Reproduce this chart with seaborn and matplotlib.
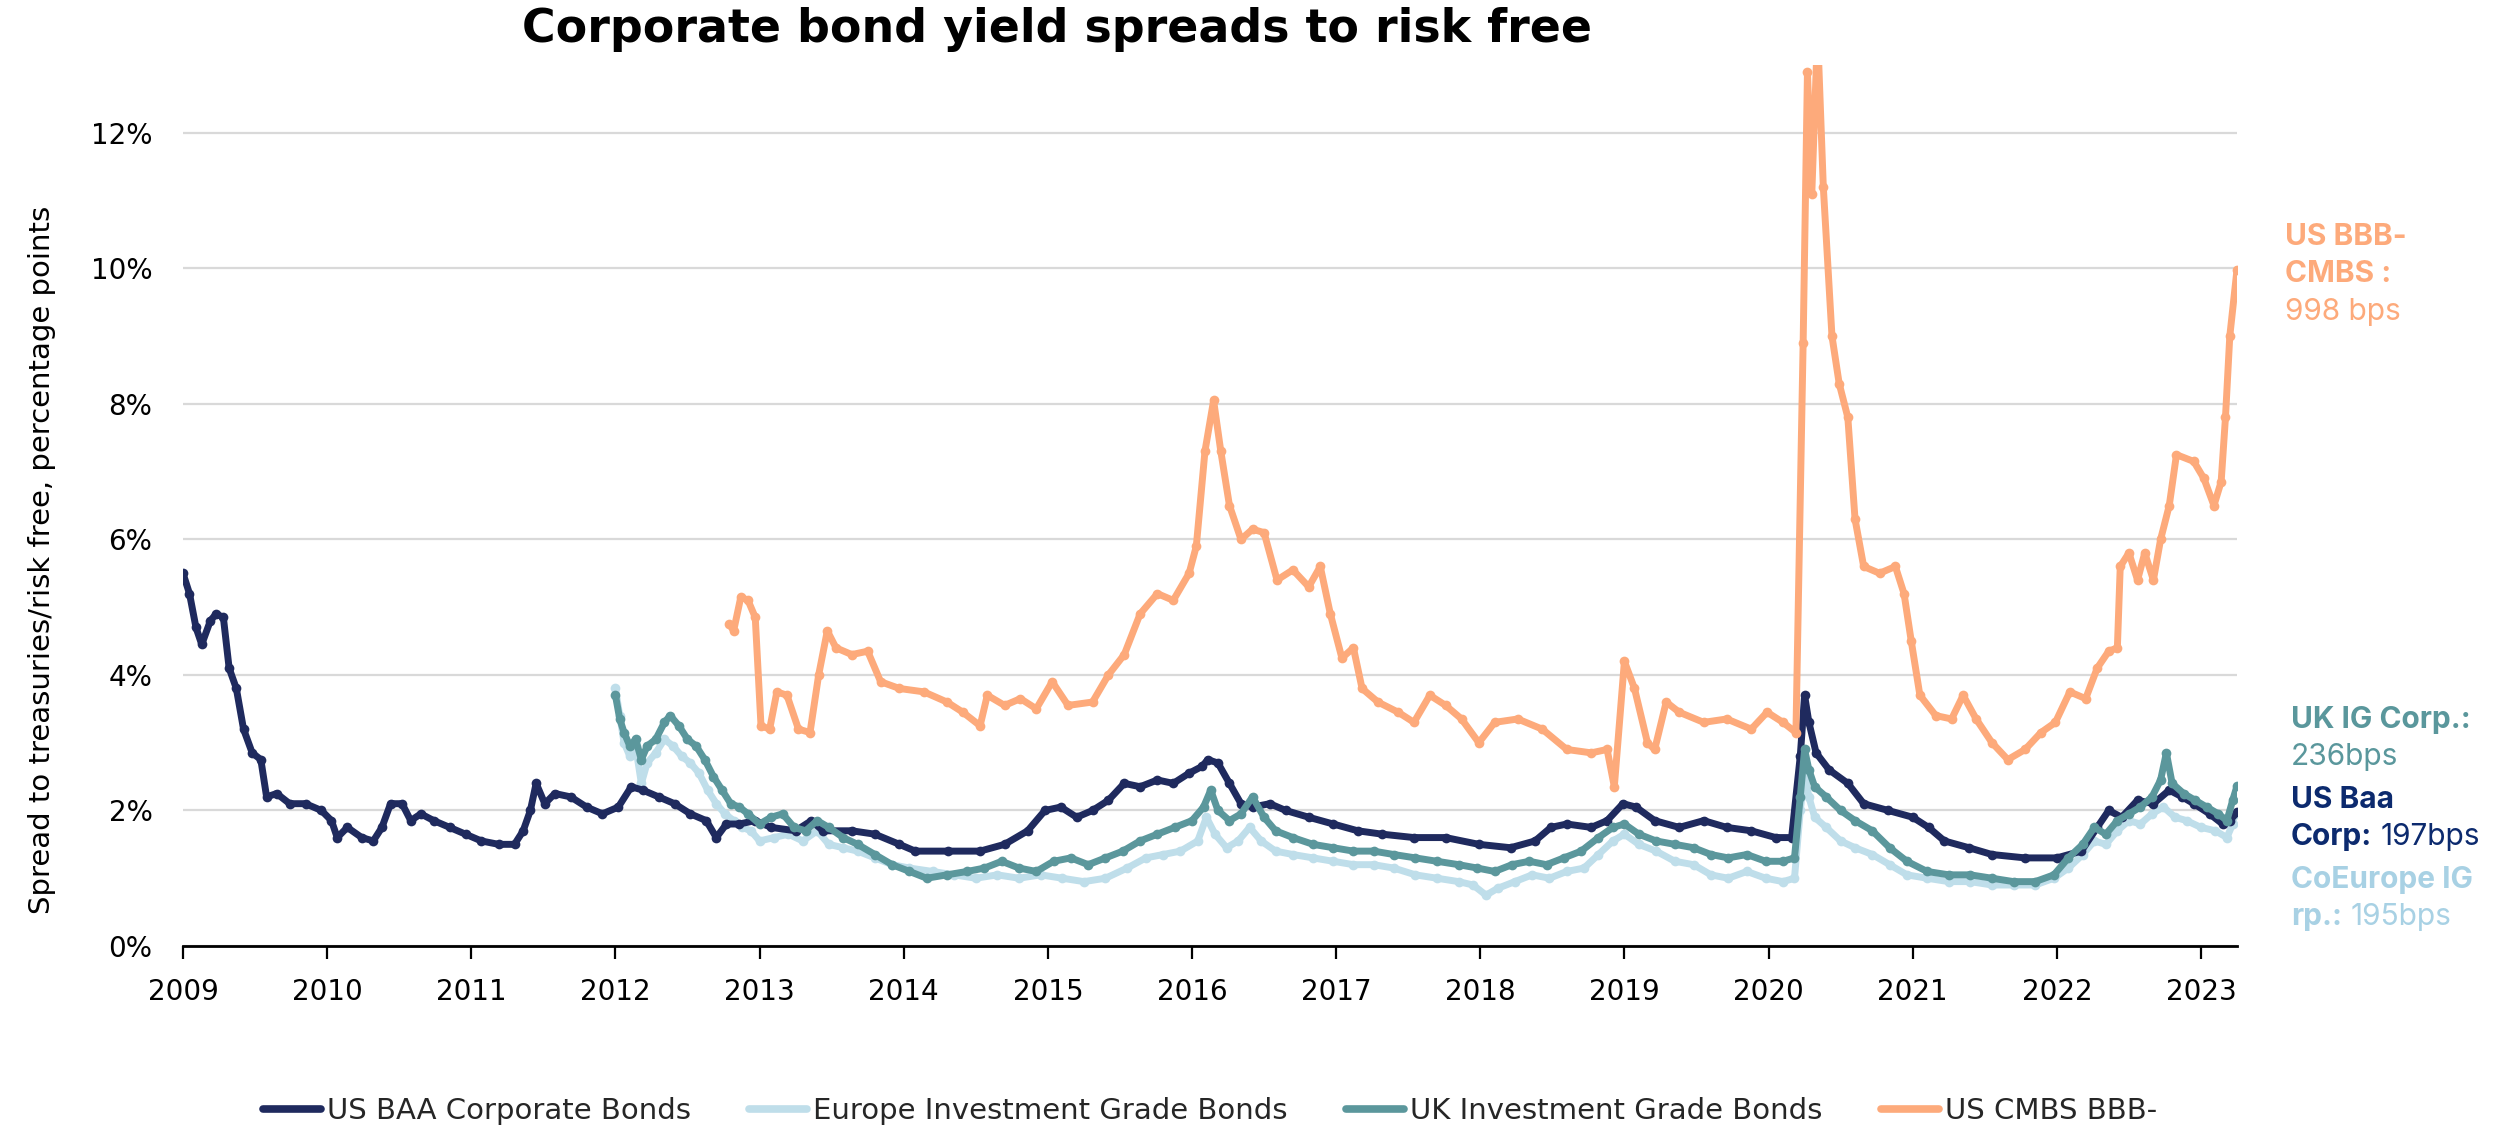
import matplotlib
matplotlib.use("Agg")
import matplotlib.pyplot as plt
import matplotlib.lines as mlines
import seaborn as sns
import pandas as pd

# ---- data (spread over risk free, percentage points) ----
baa_x = [2009.00, 2009.045, 2009.09, 2009.13, 2009.19, 2009.23, 2009.28, 2009.32, 2009.37, 2009.42,
         2009.48, 2009.54, 2009.58, 2009.65, 2009.74, 2009.85, 2009.96, 2010.03, 2010.07, 2010.14,
         2010.24, 2010.32, 2010.38, 2010.44, 2010.52, 2010.58, 2010.65, 2010.74, 2010.85, 2010.96,
         2011.07, 2011.19, 2011.30, 2011.36, 2011.41, 2011.45, 2011.51, 2011.58, 2011.69, 2011.80,
         2011.91, 2012.02, 2012.11, 2012.19, 2012.30, 2012.41, 2012.52, 2012.63, 2012.70, 2012.77,
         2012.86, 2012.97, 2013.08, 2013.25, 2013.36, 2013.44, 2013.64, 2013.80, 2013.97, 2014.08,
         2014.31, 2014.53, 2014.70, 2014.86, 2014.98, 2015.09, 2015.20, 2015.31, 2015.42, 2015.53,
         2015.64, 2015.76, 2015.87, 2015.98, 2016.07, 2016.11, 2016.18, 2016.26, 2016.34, 2016.42,
         2016.54, 2016.65, 2016.81, 2016.98, 2017.15, 2017.32, 2017.54, 2017.76, 2017.99, 2018.21,
         2018.38, 2018.49, 2018.60, 2018.77, 2018.88, 2018.99, 2019.08, 2019.21, 2019.38, 2019.55,
         2019.71, 2019.88, 2020.05, 2020.16, 2020.22, 2020.25, 2020.28, 2020.33, 2020.42, 2020.55,
         2020.66, 2020.83, 2021.00, 2021.11, 2021.22, 2021.39, 2021.55, 2021.78, 2022.00, 2022.17,
         2022.28, 2022.36, 2022.45, 2022.56, 2022.67, 2022.78, 2022.87, 2022.95, 2023.06, 2023.15,
         2023.20, 2023.25]
baa_y = [5.50, 5.20, 4.70, 4.45, 4.80, 4.90, 4.85, 4.10, 3.80, 3.20,
         2.85, 2.75, 2.20, 2.25, 2.10, 2.10, 2.00, 1.85, 1.60, 1.75,
         1.60, 1.55, 1.75, 2.10, 2.10, 1.85, 1.95, 1.85, 1.75, 1.65,
         1.55, 1.50, 1.50, 1.70, 2.00, 2.40, 2.10, 2.25, 2.20, 2.05,
         1.95, 2.05, 2.35, 2.30, 2.20, 2.10, 1.95, 1.85, 1.60, 1.80,
         1.80, 1.85, 1.75, 1.70, 1.85, 1.70, 1.70, 1.65, 1.50, 1.40,
         1.40, 1.40, 1.50, 1.70, 2.00, 2.05, 1.90, 2.00, 2.15, 2.40,
         2.35, 2.45, 2.40, 2.55, 2.65, 2.75, 2.70, 2.40, 2.10, 2.05,
         2.10, 2.00, 1.90, 1.80, 1.70, 1.65, 1.60, 1.60, 1.50, 1.45,
         1.55, 1.75, 1.80, 1.75, 1.85, 2.10, 2.05, 1.85, 1.75, 1.85,
         1.75, 1.70, 1.60, 1.60, 2.80, 3.70, 3.30, 2.85, 2.60, 2.40,
         2.10, 2.00, 1.90, 1.75, 1.55, 1.45, 1.35, 1.30, 1.30, 1.40,
         1.75, 2.00, 1.90, 2.15, 2.10, 2.30, 2.20, 2.10, 1.95, 1.80,
         1.85, 1.97]

eu_x = [2012.00, 2012.03, 2012.06, 2012.10, 2012.14, 2012.18, 2012.22, 2012.28, 2012.34, 2012.40,
        2012.46, 2012.52, 2012.58, 2012.64, 2012.70, 2012.76, 2012.82, 2012.88, 2012.94, 2013.00,
        2013.10, 2013.20, 2013.30, 2013.40, 2013.48, 2013.58, 2013.68, 2013.80, 2013.92, 2014.04,
        2014.20, 2014.35, 2014.50, 2014.65, 2014.80, 2014.95, 2015.10, 2015.25, 2015.40, 2015.55,
        2015.68, 2015.80, 2015.92, 2016.04, 2016.10, 2016.16, 2016.24, 2016.32, 2016.40, 2016.48,
        2016.58, 2016.70, 2016.84, 2016.98, 2017.12, 2017.26, 2017.40, 2017.55, 2017.70, 2017.85,
        2017.95, 2018.04, 2018.12, 2018.24, 2018.36, 2018.48, 2018.60, 2018.72, 2018.82, 2018.92,
        2019.00, 2019.10, 2019.22, 2019.35, 2019.48, 2019.60, 2019.72, 2019.85, 2019.98, 2020.10,
        2020.18, 2020.22, 2020.25, 2020.28, 2020.32, 2020.40, 2020.50, 2020.60, 2020.72, 2020.84,
        2020.96, 2021.10, 2021.25, 2021.40, 2021.55, 2021.70, 2021.85, 2021.98, 2022.08, 2022.18,
        2022.26, 2022.34, 2022.42, 2022.50, 2022.58, 2022.66, 2022.74, 2022.82, 2022.90, 2023.00,
        2023.10, 2023.18, 2023.22, 2023.25]
eu_y = [3.80, 3.40, 3.00, 2.80, 2.95, 2.40, 2.70, 2.85, 3.05, 2.95,
        2.80, 2.70, 2.55, 2.30, 2.10, 1.95, 1.85, 1.75, 1.70, 1.55,
        1.60, 1.65, 1.55, 1.70, 1.50, 1.45, 1.40, 1.30, 1.20, 1.15,
        1.10, 1.05, 1.00, 1.05, 1.00, 1.05, 1.00, 0.95, 1.00, 1.15,
        1.30, 1.35, 1.40, 1.55, 1.90, 1.65, 1.45, 1.55, 1.75, 1.55,
        1.40, 1.35, 1.30, 1.25, 1.20, 1.20, 1.15, 1.05, 1.00, 0.95,
        0.90, 0.75, 0.85, 0.95, 1.05, 1.00, 1.10, 1.15, 1.35, 1.55,
        1.65, 1.50, 1.40, 1.25, 1.20, 1.05, 1.00, 1.10, 1.00, 0.95,
        1.00, 2.00, 2.55, 2.20, 1.90, 1.75, 1.55, 1.45, 1.35, 1.20,
        1.05, 1.00, 0.95, 0.95, 0.90, 0.90, 0.90, 1.00, 1.15, 1.35,
        1.55, 1.50, 1.70, 1.85, 1.80, 1.95, 2.05, 1.90, 1.85, 1.75,
        1.70, 1.60, 1.80, 1.95]

uk_x = [2012.00, 2012.03, 2012.06, 2012.10, 2012.14, 2012.18, 2012.22, 2012.28, 2012.34, 2012.38,
        2012.44, 2012.50, 2012.56, 2012.62, 2012.68, 2012.74, 2012.80, 2012.86, 2012.92, 2013.00,
        2013.08, 2013.16, 2013.24, 2013.32, 2013.40, 2013.48, 2013.58, 2013.68, 2013.80, 2013.92,
        2014.04, 2014.16, 2014.30, 2014.44, 2014.56, 2014.68, 2014.80, 2014.92, 2015.04, 2015.16,
        2015.28, 2015.40, 2015.52, 2015.64, 2015.76, 2015.88, 2016.00, 2016.08, 2016.13, 2016.18,
        2016.26, 2016.34, 2016.42, 2016.50, 2016.58, 2016.70, 2016.84, 2016.98, 2017.12, 2017.26,
        2017.40, 2017.55, 2017.70, 2017.85, 2017.98, 2018.10, 2018.22, 2018.34, 2018.46, 2018.58,
        2018.70, 2018.82, 2018.92, 2019.00, 2019.10, 2019.22, 2019.35, 2019.48, 2019.60, 2019.72,
        2019.85, 2019.98, 2020.10, 2020.18, 2020.22, 2020.25, 2020.28, 2020.32, 2020.40, 2020.50,
        2020.60, 2020.72, 2020.84, 2020.96, 2021.10, 2021.25, 2021.40, 2021.55, 2021.70, 2021.85,
        2021.98, 2022.08, 2022.18, 2022.26, 2022.34, 2022.42, 2022.50, 2022.58, 2022.66, 2022.72,
        2022.76, 2022.80, 2022.88, 2022.96, 2023.04, 2023.12, 2023.18, 2023.22, 2023.25]
uk_y = [3.70, 3.35, 3.15, 2.95, 3.05, 2.75, 2.95, 3.05, 3.30, 3.40,
        3.25, 3.05, 2.95, 2.75, 2.50, 2.30, 2.10, 2.05, 1.95, 1.80,
        1.90, 1.95, 1.75, 1.70, 1.85, 1.75, 1.60, 1.50, 1.35, 1.20,
        1.10, 1.00, 1.05, 1.10, 1.15, 1.25, 1.15, 1.10, 1.25, 1.30,
        1.20, 1.30, 1.40, 1.55, 1.65, 1.75, 1.85, 2.05, 2.30, 2.00,
        1.85, 1.95, 2.20, 1.90, 1.70, 1.60, 1.50, 1.45, 1.40, 1.40,
        1.35, 1.30, 1.25, 1.20, 1.15, 1.10, 1.20, 1.25, 1.20, 1.30,
        1.40, 1.60, 1.75, 1.80, 1.65, 1.55, 1.50, 1.45, 1.35, 1.30,
        1.35, 1.25, 1.25, 1.30, 2.20, 2.90, 2.60, 2.35, 2.20, 2.00,
        1.85, 1.70, 1.45, 1.25, 1.10, 1.05, 1.05, 1.00, 0.95, 0.95,
        1.05, 1.30, 1.50, 1.75, 1.65, 1.85, 1.95, 2.05, 2.20, 2.45,
        2.85, 2.40, 2.25, 2.15, 2.05, 1.95, 1.85, 2.15, 2.36]

cmbs_x = [2012.79, 2012.82, 2012.87, 2012.92, 2012.97, 2013.01, 2013.07, 2013.12, 2013.19, 2013.27,
          2013.35, 2013.41, 2013.47, 2013.53, 2013.64, 2013.75, 2013.84, 2013.97, 2014.14, 2014.30,
          2014.41, 2014.53, 2014.58, 2014.70, 2014.81, 2014.92, 2015.03, 2015.14, 2015.31, 2015.42,
          2015.53, 2015.64, 2015.76, 2015.87, 2015.98, 2016.03, 2016.09, 2016.15, 2016.20, 2016.26,
          2016.34, 2016.42, 2016.50, 2016.59, 2016.70, 2016.81, 2016.89, 2016.96, 2017.04, 2017.12,
          2017.18, 2017.29, 2017.43, 2017.54, 2017.65, 2017.76, 2017.87, 2017.99, 2018.10, 2018.26,
          2018.43, 2018.60, 2018.77, 2018.88, 2018.93, 2019.00, 2019.07, 2019.16, 2019.21, 2019.29,
          2019.38, 2019.55, 2019.71, 2019.88, 2019.99, 2020.10, 2020.19, 2020.24, 2020.27, 2020.30,
          2020.34, 2020.38, 2020.44, 2020.49, 2020.55, 2020.60, 2020.66, 2020.77, 2020.88, 2020.94,
          2020.99, 2021.05, 2021.16, 2021.27, 2021.35, 2021.44, 2021.55, 2021.66, 2021.78, 2021.89,
          2021.99, 2022.09, 2022.20, 2022.28, 2022.36, 2022.42, 2022.44, 2022.50, 2022.56, 2022.61,
          2022.67, 2022.72, 2022.78, 2022.83, 2022.95, 2023.02, 2023.09, 2023.14, 2023.17, 2023.20,
          2023.25]
cmbs_y = [4.75, 4.65, 5.15, 5.10, 4.85, 3.25, 3.20, 3.75, 3.70, 3.20,
          3.15, 4.00, 4.65, 4.40, 4.30, 4.35, 3.90, 3.80, 3.75, 3.60,
          3.45, 3.25, 3.70, 3.55, 3.65, 3.50, 3.90, 3.55, 3.60, 4.00,
          4.30, 4.90, 5.20, 5.10, 5.50, 5.90, 7.30, 8.05, 7.30, 6.50,
          6.00, 6.15, 6.10, 5.40, 5.55, 5.30, 5.60, 4.90, 4.25, 4.40,
          3.80, 3.60, 3.45, 3.30, 3.70, 3.55, 3.35, 3.00, 3.30, 3.35,
          3.20, 2.90, 2.85, 2.90, 2.35, 4.20, 3.80, 3.00, 2.90, 3.60,
          3.45, 3.30, 3.35, 3.20, 3.45, 3.30, 3.15, 8.90, 12.90, 11.10,
          13.50, 11.20, 9.00, 8.30, 7.80, 6.30, 5.60, 5.50, 5.60, 5.20,
          4.50, 3.70, 3.40, 3.35, 3.70, 3.35, 3.00, 2.75, 2.90, 3.15,
          3.30, 3.75, 3.65, 4.10, 4.35, 4.40, 5.60, 5.80, 5.40, 5.80,
          5.40, 6.00, 6.50, 7.25, 7.15, 6.90, 6.50, 6.85, 7.80, 9.00,
          9.98]

series_names = ["US BAA Corporate Bonds", "Europe Investment Grade Bonds",
                "UK Investment Grade Bonds", "US CMBS BBB-"]
series_colors = ["#1f2a5e", "#bfdeea", "#5b979c", "#fdaa7b"]
year_ticks = list(range(2009, 2024))
pct_ticks = [0, 2, 4, 6, 8, 10, 12]

# ---- figure ----
sns.set_theme(style="white")
plt.rcParams["font.family"] = ["DejaVu Sans"]

W, H = 2518, 1133
fig = plt.figure(figsize=(W / 100, H / 100), dpi=100)
ax = fig.add_axes([183 / W, 1 - 946 / H, (2237 - 183) / W, (946 - 65) / H])

# (x, y, colour index, drawing order)
series = [
    (baa_x, baa_y, 0, 3),
    (eu_x, eu_y, 1, 1),
    (uk_x, uk_y, 2, 4),
    (cmbs_x, cmbs_y, 3, 5),
]
for xs, ys, idx, z in series:
    df = pd.DataFrame({"year": xs, "spread": ys})
    sns.lineplot(data=df, x="year", y="spread", ax=ax, color=series_colors[idx],
                 linewidth=5.0, marker="o", markersize=7, markeredgewidth=0,
                 estimator=None, sort=False, zorder=z, legend=False)

ax.set_xlim(2009, 2023.25)
ax.set_ylim(0, 13)
ax.set_xticks(year_ticks)
ax.set_xticklabels([str(y) for y in year_ticks], fontsize=20)
ax.set_yticks(pct_ticks)
ax.set_yticklabels([f"{t}%" for t in pct_ticks], fontsize=20)
ax.set_xlabel("")
ax.set_ylabel("")

ax.grid(axis="y", color="#d9d9d9", linewidth=1.6, zorder=0)
ax.grid(axis="x", visible=False)
ax.set_axisbelow(True)
for side in ["left", "right", "top"]:
    ax.spines[side].set_visible(False)
ax.spines["bottom"].set_color("black")
ax.spines["bottom"].set_linewidth(2.0)
ax.spines["bottom"].set_zorder(6)
ax.tick_params(axis="x", direction="out", length=9, width=1.6, color="black",
               pad=14, labelcolor="black", bottom=True)
ax.tick_params(axis="y", length=0, pad=22, labelcolor="black")

fig.text(1057 / W, 1 - 29 / H, "Corporate bond yield spreads to risk free",
         ha="center", va="center", fontsize=33, fontweight="bold", color="black")
fig.text(42 / W, 1 - 560 / H, "Spread to treasuries/risk free, percentage points",
         rotation=90, ha="center", va="center", fontsize=21, color="black")

# legend below the axes
handles = [mlines.Line2D([], [], color=c, linewidth=5.5, solid_capstyle="round")
           for c in series_colors]
fig.legend(handles, series_names, loc="center", ncol=4, frameon=False,
           bbox_to_anchor=((183 + 2237) / 2 / W, 1 - 1111 / H), fontsize=21,
           handlelength=2.0, handletextpad=0.2, columnspacing=2.0)

# end-of-series labels on the right
ann_font = ["Inter", "DejaVu Sans"]
ann_size = 21.5


def label_pair(x_px, base_px, bold_text, regular_text, color):
    """Bold lead text followed by optional regular text on the same baseline."""
    t1 = fig.text(x_px / W, 1 - base_px / H, bold_text, ha="left", va="baseline",
                  fontsize=ann_size, fontweight="bold", color=color, family=ann_font)
    if regular_text:
        ax.annotate(regular_text, xy=(1, 0), xycoords=t1, xytext=(6, 0),
                    textcoords="offset points", ha="left", va="bottom",
                    fontsize=ann_size, fontweight="normal", color=color,
                    family=ann_font, annotation_clip=False)
    return t1


def label_plain(x_px, base_px, text, color):
    fig.text(x_px / W, 1 - base_px / H, text, ha="left", va="baseline",
             fontsize=ann_size, color=color, family=ann_font)


orange_c = "#fdaa7b"
label_pair(2285, 245, "US BBB-", "", orange_c)
label_pair(2285, 282, "CMBS :", "", orange_c)
label_plain(2285, 320, "998 bps", orange_c)

teal_c = "#5a979c"
label_pair(2291, 728, "UK IG Corp.:", "", teal_c)
label_plain(2291, 765, "236bps", teal_c)

navy_c = "#0c2a6e"
label_pair(2291, 808, "US Baa", "", navy_c)
label_pair(2291, 845, "Corp:", "197bps", navy_c)

light_c = "#a8d1e4"
label_pair(2291, 888, "CoEurope IG", "", light_c)
label_pair(2291, 925, "rp.:", "195bps", light_c)

fig.savefig("out.png", dpi=100)
